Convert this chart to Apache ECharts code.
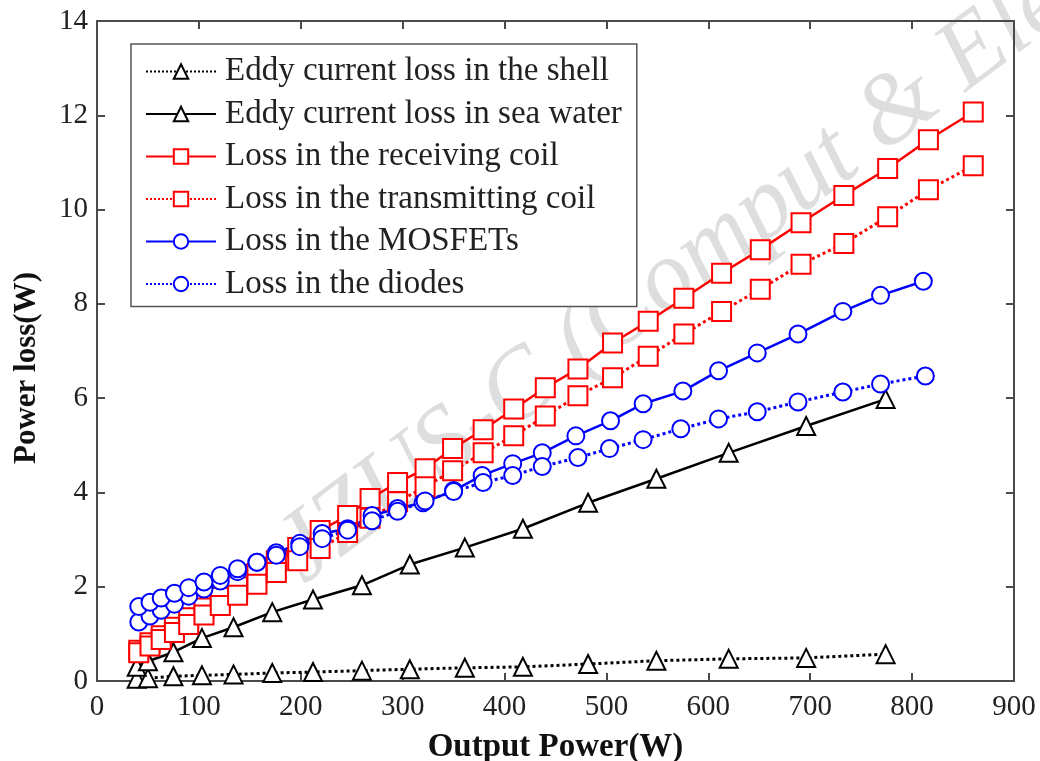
<!DOCTYPE html>
<html>
<head>
<meta charset="utf-8">
<script src="https://cdn.jsdelivr.net/npm/echarts@6/dist/echarts.min.js"></script>
<style>
  html, body { margin: 0; padding: 0; background: #fff; }
  #chart { width: 1040px; height: 761px; }
</style>
</head>
<body>
<div id="chart"></div>
<script>
// output power (W) and losses (W)
var shellW = [39, 50, 75, 103, 134, 172, 212, 260, 307, 361, 418, 482, 549, 620, 696, 774];
var shellLoss = [0.05, 0.06, 0.10, 0.12, 0.14, 0.17, 0.19, 0.22, 0.25, 0.28, 0.30, 0.36, 0.43, 0.47, 0.49, 0.57];
var seaW = [39, 50, 75, 103, 134, 172, 212, 260, 307, 361, 418, 482, 549, 620, 696, 774];
var seaLoss = [0.30, 0.42, 0.61, 0.91, 1.14, 1.46, 1.73, 2.03, 2.47, 2.83, 3.23, 3.78, 4.29, 4.84, 5.41, 5.98];
var coilW = [41, 52, 63, 76, 90, 105, 121, 138, 157, 176, 197, 219, 246, 268, 295, 322, 349, 379, 409, 440, 472, 506, 541, 576, 613, 651, 691, 733, 776, 816, 860];
var rxLoss = [0.65, 0.81, 0.96, 1.14, 1.34, 1.55, 1.77, 2.00, 2.28, 2.55, 2.83, 3.19, 3.51, 3.87, 4.21, 4.50, 4.93, 5.33, 5.77, 6.22, 6.62, 7.17, 7.63, 8.12, 8.65, 9.15, 9.72, 10.30, 10.87, 11.48, 12.07];
var txLoss = [0.60, 0.74, 0.88, 1.03, 1.20, 1.40, 1.60, 1.82, 2.05, 2.30, 2.55, 2.81, 3.15, 3.45, 3.80, 4.12, 4.46, 4.84, 5.20, 5.62, 6.05, 6.43, 6.89, 7.36, 7.84, 8.31, 8.84, 9.28, 9.85, 10.42, 10.93];
var mosW = [41, 52, 63, 76, 90, 105, 121, 138, 157, 176, 199, 221, 246, 270, 295, 320, 350, 378, 408, 437, 470, 504, 536, 575, 610, 648, 688, 732, 769, 811];
var mosLoss = [1.25, 1.38, 1.50, 1.63, 1.80, 1.95, 2.12, 2.32, 2.52, 2.72, 2.92, 3.13, 3.23, 3.51, 3.66, 3.78, 4.04, 4.36, 4.61, 4.84, 5.20, 5.52, 5.88, 6.15, 6.58, 6.96, 7.36, 7.84, 8.18, 8.48];
var diodeW = [41, 52, 63, 76, 90, 105, 121, 138, 157, 176, 199, 221, 246, 270, 295, 322, 350, 379, 408, 437, 472, 503, 536, 573, 610, 648, 688, 732, 769, 813];
var diodeLoss = [1.58, 1.67, 1.76, 1.86, 1.98, 2.10, 2.24, 2.38, 2.52, 2.67, 2.85, 3.02, 3.20, 3.40, 3.60, 3.82, 4.02, 4.21, 4.36, 4.55, 4.74, 4.93, 5.12, 5.35, 5.56, 5.71, 5.92, 6.13, 6.30, 6.47];

var xTicks = [0, 900, 100];
var yTicks = [0, 14, 2];

function pairs(xs, ys) {
  var out = [];
  for (var i = 0; i < xs.length; i++) {
    out.push([xs[i], ys[i]]);
  }
  return out;
}

var serif = "'Liberation Serif', 'DejaVu Serif', serif";
var axisColor = "#4a4a4a";

function mkSeries(name, xs, ys, color, dash, symbol, size) {
  return {
    name: name,
    type: "line",
    data: pairs(xs, ys),
    symbol: symbol,
    symbolSize: size,
    showAllSymbol: true,
    itemStyle: { color: color, borderColor: color, borderWidth: 2.5 },
    lineStyle: { color: color, width: dash === "solid" ? 2.5 : 3, type: dash },
    emphasis: { disabled: true },
    z: 3
  };
}

// same frame on all four sides, ticks pointing in
function frameAxis(extra) {
  var a = {
    type: "value",
    axisLine: { show: true, onZero: false, lineStyle: { color: axisColor, width: 2 } },
    axisTick: { show: true, inside: true, length: 8, lineStyle: { color: axisColor, width: 2 } },
    splitLine: { show: false }
  };
  for (var k in extra) a[k] = extra[k];
  return a;
}

var myChart = echarts.init(document.getElementById("chart"));

var option = {
  animation: false,
  backgroundColor: "#fff",
  grid: { left: 97, right: 26, top: 21, bottom: 80, containLabel: false, outerBoundsMode: "none" },
  legend: {
    orient: "vertical",
    left: 131,
    top: 44,
    padding: [11, 15, 6, 14],
    itemWidth: 70,
    itemHeight: 18,
    itemGap: 9.5,
    backgroundColor: "#fff",
    borderColor: "#555",
    borderWidth: 1.5,
    textStyle: { fontFamily: serif, fontSize: 33, color: "#222", lineHeight: 33, padding: [0, 0, 0, 4] },
    data: [
      "Eddy current loss in the shell",
      "Eddy current loss in sea water",
      "Loss in the receiving coil",
      "Loss in the transmitting coil",
      "Loss in the MOSFETs",
      "Loss in the diodes"
    ]
  },
  graphic: [
    {
      type: "text",
      x: 318,
      y: 604,
      rotation: 0.64,
      z: 0,
      silent: true,
      style: {
        text: "JZUS-C (Comput & Electron)",
        fontFamily: serif,
        fontStyle: "italic",
        fontSize: 100,
        textVerticalAlign: "bottom",
        fill: "rgba(160,160,160,0.35)"
      }
    }
  ],
  xAxis: [
    frameAxis({
      min: xTicks[0],
      max: xTicks[1],
      interval: xTicks[2],
      name: "Output Power(W)",
      nameLocation: "middle",
      nameGap: 50,
      nameTextStyle: { fontFamily: serif, fontSize: 33, fontWeight: "bold", color: "#111" },
      axisLabel: { fontFamily: serif, fontSize: 29, color: "#222", margin: 12 }
    }),
    frameAxis({
      position: "top",
      min: xTicks[0],
      max: xTicks[1],
      interval: xTicks[2],
      axisLabel: { show: false }
    })
  ],
  yAxis: [
    frameAxis({
      min: yTicks[0],
      max: yTicks[1],
      interval: yTicks[2],
      name: "Power loss(W)",
      nameLocation: "middle",
      nameGap: 55,
      nameTextStyle: { fontFamily: serif, fontSize: 31, fontWeight: "bold", color: "#111", padding: [0, 34, 0, 0] },
      axisLabel: { fontFamily: serif, fontSize: 29, color: "#222", margin: 9 }
    }),
    frameAxis({
      position: "right",
      min: yTicks[0],
      max: yTicks[1],
      interval: yTicks[2],
      axisLabel: { show: false }
    })
  ],
  series: [
    mkSeries("Eddy current loss in the shell", shellW, shellLoss, "#000", "dotted", "emptyTriangle", 18),
    mkSeries("Eddy current loss in sea water", seaW, seaLoss, "#000", "solid", "emptyTriangle", 18),
    mkSeries("Loss in the receiving coil", coilW, rxLoss, "#ff0000", "solid", "emptyRect", 19),
    mkSeries("Loss in the transmitting coil", coilW, txLoss, "#ff0000", "dotted", "emptyRect", 19),
    mkSeries("Loss in the MOSFETs", mosW, mosLoss, "#0000ff", "solid", "emptyCircle", 17),
    mkSeries("Loss in the diodes", diodeW, diodeLoss, "#0000ff", "dotted", "emptyCircle", 17)
  ]
};

myChart.setOption(option);
</script>
</body>
</html>
